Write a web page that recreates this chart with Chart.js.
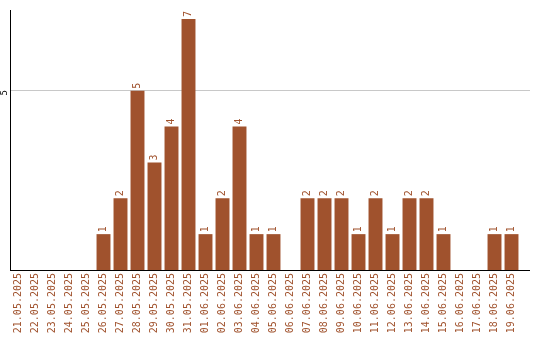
<!DOCTYPE html>
<html>
<head>
<meta charset="utf-8">
<script src="https://cdn.jsdelivr.net/npm/chart.js@4/dist/chart.umd.min.js"></script>
<style>
  html, body { margin: 0; padding: 0; background: #fff; }
</style>
</head>
<body>
<canvas id="myBarChart" width="540" height="340"></canvas>
<script>
const dates = ['21.05.2025', '22.05.2025', '23.05.2025', '24.05.2025', '25.05.2025',
    '26.05.2025', '27.05.2025', '28.05.2025', '29.05.2025', '30.05.2025', '31.05.2025',
    '01.06.2025', '02.06.2025', '03.06.2025', '04.06.2025', '05.06.2025', '06.06.2025',
    '07.06.2025', '08.06.2025', '09.06.2025', '10.06.2025', '11.06.2025', '12.06.2025',
    '13.06.2025', '14.06.2025', '15.06.2025', '16.06.2025', '17.06.2025', '18.06.2025',
    '19.06.2025'];
const counts = [0, 0, 0, 0, 0, 1, 2, 5, 3, 4, 7, 1, 2, 4, 1, 1, 0, 2, 2, 2, 1, 2, 1, 2, 2, 1, 0, 0, 1, 1];
const yTicks = [5];

const barColor = '#a0522d';
const monoFont = '"DejaVu Sans Mono", monospace';

// same pixel snapping chart.js uses for 1px lines
const snap = p => Math.round(p - 0.5) + 0.5;

// rotated value labels above bars, rotated y tick label, axis/grid run-out to the right
const labelPlugin = {
    id: 'labelPlugin',
    beforeDatasetsDraw(chart) {
        const ctx = chart.ctx;
        const area = chart.chartArea;
        const y = chart.scales.y;
        ctx.save();
        ctx.lineWidth = 1;
        ctx.strokeStyle = '#c8c8c8';
        yTicks.forEach(v => {
            const py = snap(y.getPixelForValue(v));
            ctx.beginPath();
            ctx.moveTo(area.right, py);
            ctx.lineTo(area.right + 10, py);
            ctx.stroke();
        });
        ctx.strokeStyle = '#000';
        const by = snap(area.bottom);
        ctx.beginPath();
        ctx.moveTo(area.right, by);
        ctx.lineTo(area.right + 10, by);
        ctx.stroke();
        ctx.restore();
    },
    afterDatasetsDraw(chart) {
        const ctx = chart.ctx;
        const meta = chart.getDatasetMeta(0);
        ctx.save();
        ctx.font = '10px ' + monoFont;
        ctx.fillStyle = barColor;
        ctx.textAlign = 'left';
        ctx.textBaseline = 'middle';
        meta.data.forEach((bar, i) => {
            if (!counts[i]) return;
            ctx.save();
            ctx.translate(bar.x, bar.y - 2);
            ctx.rotate(-Math.PI / 2);
            ctx.fillText(String(counts[i]), 0, 0);
            ctx.restore();
        });
        const y = chart.scales.y;
        ctx.fillStyle = '#000';
        ctx.font = '9px ' + monoFont;
        ctx.textAlign = 'center';
        yTicks.forEach(v => {
            ctx.save();
            ctx.translate(5, y.getPixelForValue(v) + 2);
            ctx.rotate(-Math.PI / 2);
            ctx.fillText(String(v), 0, 0);
            ctx.restore();
        });
        ctx.restore();
    }
};

const ctx = document.getElementById('myBarChart').getContext('2d');
new Chart(ctx, {
    type: 'bar',
    data: {
        labels: dates,
        datasets: [{
            data: counts,
            backgroundColor: barColor,
            borderWidth: 0,
            barPercentage: 0.82,
            categoryPercentage: 1
        }]
    },
    options: {
        responsive: false,
        animation: false,
        devicePixelRatio: 1,
        layout: { padding: { top: 10, right: 20, left: 0, bottom: 0 } },
        plugins: { legend: { display: false }, tooltip: { enabled: false } },
        scales: {
            x: {
                grid: { display: false, drawTicks: false },
                border: { color: '#000', width: 1 },
                ticks: {
                    color: barColor,
                    font: { family: monoFont, size: 10 },
                    minRotation: 90,
                    maxRotation: 90,
                    padding: 3,
                    autoSkip: false
                },
                afterFit(scale) { scale.height = 70; }
            },
            y: {
                min: 0,
                max: 7.25,
                grid: { color: '#c8c8c8', drawTicks: false },
                border: { color: '#000', width: 1 },
                ticks: { display: false },
                afterBuildTicks(scale) { scale.ticks = yTicks.map(v => ({ value: v })); },
                afterFit(scale) { scale.width = 10; }
            }
        }
    },
    plugins: [labelPlugin]
});
</script>
</body>
</html>
